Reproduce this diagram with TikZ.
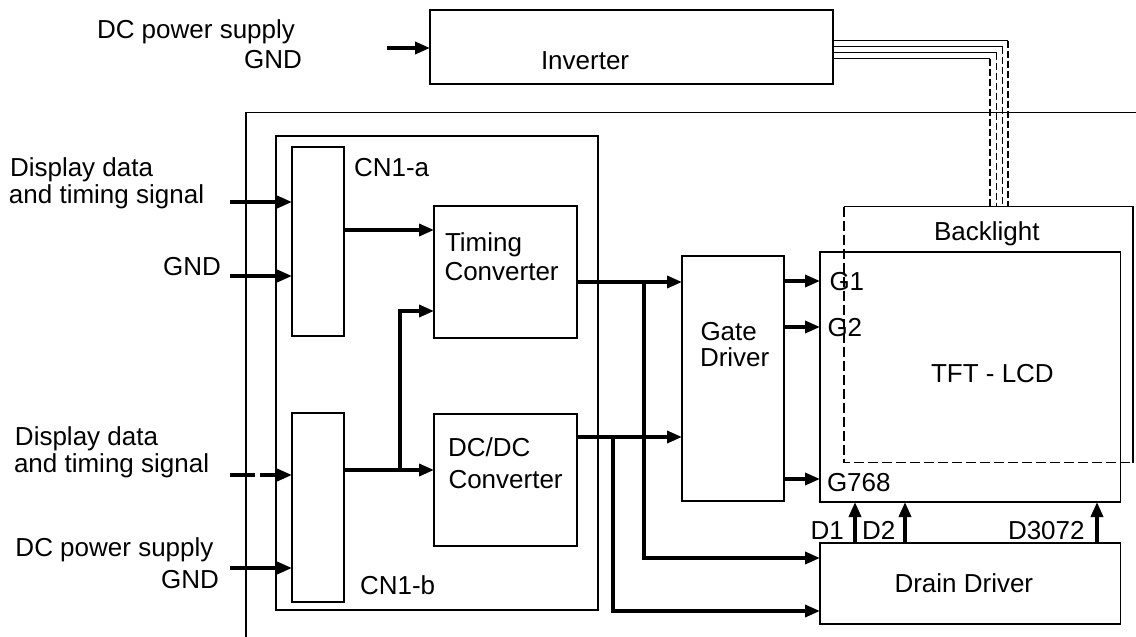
\documentclass[tikz,border=0pt]{standalone}
\usepackage{fontspec}
\setmainfont{Liberation Sans}
\usetikzlibrary{arrows.meta}
\begin{document}
\begin{tikzpicture}[x=1pt,y=-1pt,
  box/.style={draw,line width=1.5pt,inner sep=0pt,outer sep=0pt,rectangle},
  ghost/.style={draw=none,inner sep=0pt,outer sep=0pt,rectangle},
  arr/.style={line width=3.5pt,-{Triangle[length=15pt,width=12pt]}},
  wire/.style={line width=1.5pt},
  wiredash/.style={line width=1.5pt,dash pattern=on 7pt off 3pt},
  bldash/.style={line width=1.5pt,dash pattern=on 10pt off 4pt},
  lbl/.style={inner sep=0pt,outer sep=0pt,font=\fontsize{26}{28}\selectfont}]
\useasboundingbox (0,0) rectangle (1136,637);

% outer frame (clipped by picture edges)
\coordinate (f1) at (246,637);
\coordinate (f2) at (246,112.5);
\coordinate (f3) at (1136,112.5);
\draw[wire] (f1) -- (f2) -- (f3);

% boxes
\node[box,minimum width=403,minimum height=74] (inv) at (631.5,47) {};
\node[box,minimum width=322,minimum height=474] (board) at (437,373) {};
\node[box,minimum width=52,minimum height=189] (cn1a) at (318,241.5) {};
\node[box,minimum width=52,minimum height=189] (cn1b) at (318,507.5) {};
\node[box,minimum width=143,minimum height=132] (timing) at (505.5,272) {};
\node[box,minimum width=143,minimum height=132] (dcdc) at (505.5,480) {};
\node[box,minimum width=102,minimum height=245] (gate) at (733,378.5) {};
\node[box,minimum width=300.5,minimum height=250] (tft) at (970.25,377) {};
\node[box,minimum width=300.5,minimum height=81] (drain) at (970.25,583.5) {};
\node[ghost,minimum width=289,minimum height=255.8] (bl) at (988.5,334.6) {};

% backlight outline: top and right solid, left and bottom dashed
\draw[wire] (bl.north west) -- (bl.north east) -- (bl.south east);
\draw[bldash] (bl.north west) -- (bl.south west) -- (bl.south east);

% inverter wires to backlight
\foreach \yy/\xx in {40.7/1008, 46.7/1002.7, 52.7/996.7, 58.7/990}{
  \draw[wire] (inv.east |- 0,\yy) -- (\xx,\yy);
  \draw[wiredash] (\xx,\yy) -- (bl.north -| \xx,0);
}

% texts
\node[lbl,anchor=base west] (tinv) at (541,69) {Inverter};
\node[lbl,anchor=base west] (tdc0) at (97,38) {DC power supply};
\node[lbl,anchor=base east] (tgnd0) at (302,68) {GND};
\node[lbl,anchor=base west] (td1a) at (10,176.7) {Display data};
\node[lbl,anchor=base west] (td1b) at (9,203.3) {and timing signal};
\node[lbl,anchor=base east] (tgnd1) at (221,275) {GND};
\node[lbl,anchor=base west] (td2a) at (15,445) {Display data};
\node[lbl,anchor=base west] (td2b) at (14,472.7) {and timing signal};
\node[lbl,anchor=base west] (tdc2) at (15.5,556.7) {DC power supply};
\node[lbl,anchor=base east] (tgnd2) at (219,588.3) {GND};
\node[lbl,anchor=base west] (tcna) at (354,176.7) {CN1-a};
\node[lbl,anchor=base west] (tcnb) at (360,594) {CN1-b};
\node[lbl,anchor=base west] (ttc1) at (445,251.7) {Timing};
\node[lbl,anchor=base west] (ttc2) at (444.5,280.7) {Converter};
\node[lbl,anchor=base west] (tdd1) at (448,456.7) {DC/DC};
\node[lbl,anchor=base west] (tdd2) at (448.5,488.3) {Converter};
\node[lbl,anchor=base west] (tgd1) at (700.5,340) {Gate};
\node[lbl,anchor=base west] (tgd2) at (700,366.7) {Driver};
\node[lbl,anchor=base west] (tg1) at (829.5,290.7) {G1};
\node[lbl,anchor=base west] (tg2) at (827.5,336.7) {G2};
\node[lbl,anchor=base west] (tg768) at (827,491) {G768};
\node[lbl,anchor=base west] (ttft) at (931,382.7) {TFT - LCD};
\node[lbl,anchor=base west] (tbl) at (934,240) {Backlight};
\node[lbl,anchor=base west] (tD1) at (810.5,539) {D1};
\node[lbl,anchor=base west] (tD2) at (862,539) {D2};
\node[lbl,anchor=base west] (tD3) at (1008,539) {D3072};
\node[lbl,anchor=base west] (tdrain) at (894.5,592.7) {Drain Driver};

% input arrows
\coordinate (pin) at (387,48);
\draw[arr] (pin) -- (inv.west |- pin);
\coordinate (i1) at (230,202);
\coordinate (i2) at (230,276);
\coordinate (i3) at (230,475);
\coordinate (i4) at (230,568);
\draw[arr] (i1) -- (cn1a.west |- i1);
\draw[arr] (i2) -- (cn1a.west |- i2);
\draw[arr,dash pattern=on 25pt off 5pt on 200pt] (i3) -- (cn1b.west |- i3);
\draw[arr] (i4) -- (cn1b.west |- i4);

% internal connections
\draw[arr] (cn1a.east |- 0,230) -- (timing.west |- 0,230);
\draw[arr] (cn1b.east |- 0,470) -- (dcdc.west |- 0,470);
\coordinate (j1) at (400,470);
\draw[arr] (j1) |- (timing.west |- 0,311);
\draw[arr] (timing.east |- 0,282) -- (gate.west |- 0,282);
\coordinate (j2) at (644,282);
\draw[arr] (j2) |- (drain.west |- 0,558);
\draw[arr] (dcdc.east |- 0,437) -- (gate.west |- 0,437);
\coordinate (j3) at (613,437);
\draw[arr] (j3) |- (drain.west |- 0,611);

% gate lines
\draw[arr] (gate.east |- 0,281) -- (tft.west |- 0,281);
\draw[arr] (gate.east |- 0,327) -- (tft.west |- 0,327);
\draw[arr] (gate.east |- 0,479) -- (tft.west |- 0,479);

% drain lines
\draw[arr] (drain.north -| 855,0) -- (tft.south -| 855,0);
\draw[arr] (drain.north -| 905,0) -- (tft.south -| 905,0);
\draw[arr] (drain.north -| 1097,0) -- (tft.south -| 1097,0);
\end{tikzpicture}
\end{document}
